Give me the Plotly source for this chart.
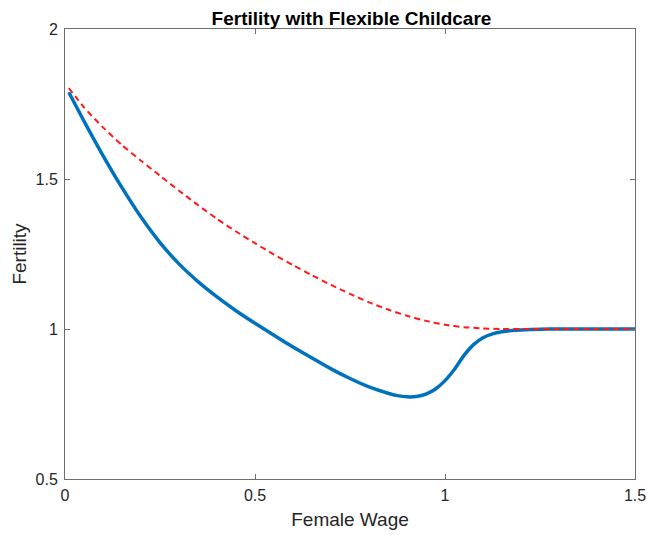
import plotly.graph_objects as go

# Female wage grid and fertility outcomes
wage_flex = [0.01, 0.05, 0.10, 0.15, 0.20, 0.25, 0.30, 0.35, 0.40, 0.45, 0.50,
             0.55, 0.60, 0.65, 0.70, 0.75, 0.80, 0.85, 0.875, 0.90, 0.925, 0.95,
             0.975, 1.00, 1.025, 1.05, 1.075, 1.10, 1.125, 1.15, 1.175, 1.20, 1.25,
             1.30, 1.40, 1.50]
fert_flex = [1.789, 1.693, 1.578, 1.471, 1.373, 1.288, 1.217, 1.158, 1.107, 1.061, 1.019,
             0.979, 0.940, 0.903, 0.867, 0.835, 0.807, 0.786, 0.778, 0.774, 0.775, 0.783,
             0.800, 0.828, 0.866, 0.912, 0.948, 0.971, 0.984, 0.991, 0.995, 0.997, 0.999,
             1.000, 1.000, 1.000]

wage_base = [0.01, 0.05, 0.10, 0.15, 0.20, 0.25, 0.30, 0.35, 0.40, 0.45, 0.50,
             0.55, 0.60, 0.65, 0.70, 0.75, 0.80, 0.85, 0.90, 0.95, 1.00, 1.05,
             1.10, 1.15, 1.20, 1.30, 1.40, 1.50]
fert_base = [1.803, 1.739, 1.672, 1.613, 1.561, 1.511, 1.461, 1.413, 1.367, 1.325, 1.286,
             1.248, 1.213, 1.179, 1.147, 1.117, 1.089, 1.065, 1.044, 1.027, 1.014, 1.006,
             1.002, 1.000, 1.000, 1.000, 1.000, 1.000]

x_ticks = [0, 0.5, 1, 1.5]
x_labels = ["0", "0.5", "1", "1.5"]
y_ticks = [0.5, 1, 1.5, 2]
y_labels = ["0.5", "1", "1.5", "2"]

FONT = "Liberation Sans, Arial, Helvetica"

fig = go.Figure()
fig.add_trace(go.Scatter(x=wage_flex, y=fert_flex, mode="lines",
                         line=dict(color="#0072BD", width=3.5, shape="spline", smoothing=0.6),
                         showlegend=False))
fig.add_trace(go.Scatter(x=wage_base, y=fert_base, mode="lines",
                         line=dict(color="#FF1A1A", width=2, dash="6px,4px", shape="spline", smoothing=0.6),
                         showlegend=False))

axis_common = dict(showgrid=False, zeroline=False, showline=True, linecolor="#6e6e6e",
                   linewidth=1, mirror="ticks", ticks="inside", ticklen=5, tickcolor="#6e6e6e",
                   tickfont=dict(family=FONT, size=16, color="#262626"))

fig.update_xaxes(range=[0, 1.5], tickvals=x_ticks, ticktext=x_labels, ticklabelstandoff=2,
                 title=dict(text="Female Wage", font=dict(family=FONT, size=19, color="#262626"),
                            standoff=9),
                 **axis_common)
fig.update_yaxes(range=[0.5, 2], tickvals=y_ticks, ticktext=y_labels, ticklabelstandoff=3,
                 title=dict(text="Fertility", font=dict(family=FONT, size=19, color="#262626"),
                            standoff=3),
                 **axis_common)

fig.update_layout(
    width=649, height=535,
    margin=dict(l=65, r=14, t=29, b=56, autoexpand=False),
    plot_bgcolor="white", paper_bgcolor="white",
    title=dict(text="<b>Fertility with Flexible Childcare</b>", x=0.5416, xanchor="center",
               y=0.9654, yanchor="middle",
               font=dict(family=FONT, size=19, color="#000000")),
)

fig.write_html("out.html")
